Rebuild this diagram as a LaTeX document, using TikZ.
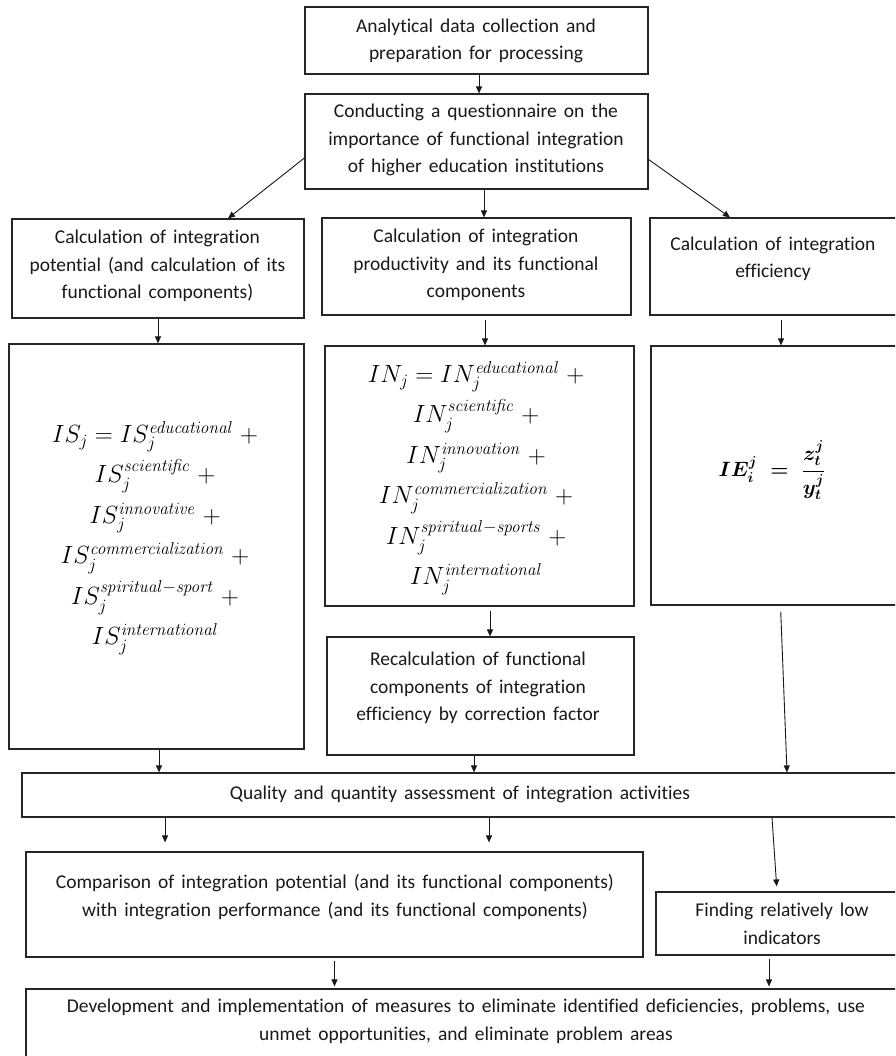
\documentclass[tikz,border=0pt]{standalone}
\usepackage{amsmath}
\usepackage[no-math]{fontspec}
\setmainfont{Carlito}[Ligatures=NoCommon, WordSpace=1.6]
\usetikzlibrary{arrows.meta,calc}
\begin{document}
\begin{tikzpicture}[x=1pt,y=-1pt,
  box/.style={draw=black!85, line width=1.2pt, inner sep=0pt},
  txt/.style={font=\fontsize{19.5}{27.5}\selectfont, align=center, inner sep=0pt, text=black!90},
  frm/.style={font=\fontsize{26}{40.5}\selectfont, align=center, inner sep=0pt},
  arr/.style={draw=black!90, line width=0.9pt, -{Triangle[length=7pt,width=6pt]}}]
\useasboundingbox (0,0) rectangle (895,1056);
\clip (0,0) rectangle (895,1056);
\fill[white] (0,0) rectangle (895,1056);
% boxes
\node[box, minimum width=343, minimum height=67] (A) at (476.5,40.5) {};
\node[box, minimum width=343, minimum height=95] (B) at (476.5,141.5) {};
\node[box, minimum width=292, minimum height=99] (C1) at (158,268.5) {};
\node[box, minimum width=309, minimum height=97] (C2) at (476.5,266.5) {};
\node[box, minimum width=250, minimum height=97] (C3) at (775,266.5) {};
\node[box, minimum width=295, minimum height=405] (D1) at (156.5,546.5) {};
\node[box, minimum width=309, minimum height=260] (D2) at (479.5,476) {};
\node[box, minimum width=249, minimum height=259] (D3) at (775.5,475.5) {};
\node[box, minimum width=307, minimum height=118] (E2) at (480.5,696) {};
\node[box, minimum width=878, minimum height=44] (F) at (461,795) {};
\node[box, minimum width=617, minimum height=105] (H) at (334.5,904.5) {};
\node[box, minimum width=244, minimum height=63] (K) at (778,923.5) {};
\node[box, minimum width=874, minimum height=71] (G) at (463,1024.5) {};
% texts
\node[txt] (At) at (476,41) {Analytical data collection and\\preparation for processing};
\node[txt] (Bt) at (476,140) {Conducting a questionnaire on the\\importance of functional integration\\of higher education institutions};
\node[txt] (C1t) at (157.5,266) {Calculation of integration\\potential (and calculation of its\\functional components)};
\node[txt] (C2t) at (476,265) {Calculation of integration\\productivity and its functional\\components};
\node[txt] (C3t) at (773,259) {Calculation of integration\\efficiency};
\node[frm, font=\fontsize{27}{40.5}\selectfont] (D1t) at (155,538) {$IS_j = IS_j^{\mathit{educational}}\;+$\\
  $IS_j^{\mathit{scientific}}\;+$\\
  $IS_j^{\mathit{innovative}}\;+$\\
  $IS_j^{\mathit{commercialization}}\;+$\\
  $IS_j^{\mathit{spiritual-sport}}\;+$\\
  $IS_j^{\mathit{international}}$};
\node[frm] (D2t) at (476,478) {$IN_j = IN_j^{\mathit{educational}}\;+$\\
  $IN_j^{\mathit{scientific}}\;+$\\
  $IN_j^{\mathit{innovation}}\;+$\\
  $IN_j^{\mathit{commercialization}}\;+$\\
  $IN_j^{\mathit{spiritual-sports}}\;+$\\
  $IN_j^{\mathit{international}}$};
\node[inner sep=0pt, font=\fontsize{20.5}{24}\selectfont\boldmath] (D3t) at (772,470) {$IE_i^j \;=\; \dfrac{z_t^j}{y_t^j}$};
\node[txt] (E2t) at (478,688) {Recalculation of functional\\components of integration\\efficiency by correction factor};
\node[txt] (Ft) at (460,794) {Quality and quantity assessment of integration activities};
\node[txt] (Ht) at (335,897) {Comparison of integration potential (and its functional components)\\with integration performance (and its functional components)};
\node[txt] (Kt) at (782,924) {Finding relatively low\\indicators};
\node[txt] (Gt) at (466,1021.5) {Development and implementation of measures to eliminate identified deficiencies, problems, use\\unmet opportunities, and eliminate problem areas};
% arrows
\draw[arr] ([xshift=2.5]A.south) -- ([xshift=2.5]B.north);
\draw[arr] ([yshift=-16.5]B.west) -- ([xshift=70]C1.north);
\draw[arr] ([xshift=7.5]B.south) -- ([xshift=7.5]C2.north);
\draw[arr] ([yshift=-18]B.east) -- ([xshift=-45]C3.north);
\draw[arr] (C1.south) -- (C1.south |- D1.north);
\draw[arr, shorten <=4pt] ([xshift=8.5]C2.south) -- ([xshift=8.5]C2.south |- D2.north);
\draw[arr, shorten <=4pt] ([xshift=6]C3.south) -- ([xshift=6]C3.south |- D3.north);
\draw[arr] ([xshift=2.5]D1.south) -- ([xshift=2.5]D1.south |- F.north);
\draw[arr, shorten <=4pt] ([xshift=10.5]D2.south) -- ([xshift=10.5]D2.south |- E2.north);
\draw[arr] ([xshift=-6.5]E2.south) -- ([xshift=-6.5]E2.south |- F.north);
\draw[arr, shorten <=6pt] ([xshift=5]D3.south) -- ([xshift=326]F.north);
\draw[arr, shorten >=9pt] ([xshift=-296]F.south) -- ([xshift=-296]F.south |- H.north);
\draw[arr, shorten >=9pt] ([xshift=28]F.south) -- ([xshift=28]F.south |- H.north);
\draw[arr, shorten >=5pt] ([xshift=311]F.south) -- ([xshift=-1]K.north);
\draw[arr, shorten <=3pt, shorten >=2pt] (H.south) -- (H.south |- G.north);
\draw[arr, shorten <=3pt, shorten >=2pt] ([xshift=-9]K.south) -- ([xshift=-9]K.south |- G.north);
\end{tikzpicture}
\end{document}
